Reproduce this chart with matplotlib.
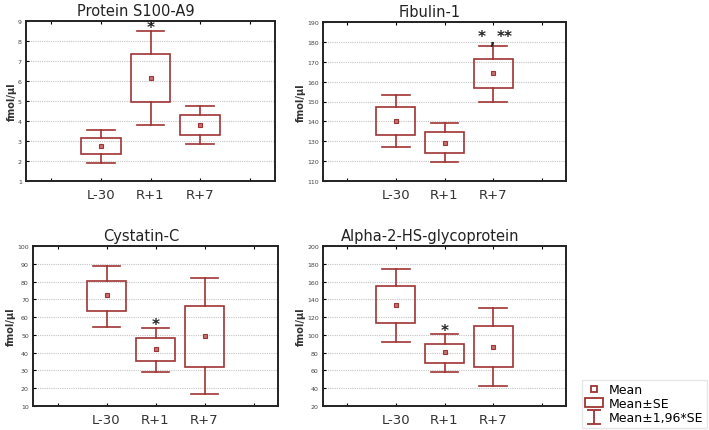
import numpy as np
import matplotlib.pyplot as plt
from matplotlib.patches import Rectangle
from matplotlib.lines import Line2D
from matplotlib.path import Path

# Datos
grupos = ["L-30", "R+1", "R+7"]

s100_media = [2.75, 6.15, 3.8]
s100_caja_lo = [2.35, 4.95, 3.3]
s100_caja_hi = [3.15, 7.35, 4.3]
s100_big_lo = [1.9, 3.8, 2.85]
s100_big_hi = [3.55, 8.5, 4.75]

fib_media = [140.2, 129.1, 164.3]
fib_caja_lo = [133.1, 124.1, 156.8]
fib_caja_hi = [147.2, 134.7, 171.4]
fib_big_lo = [127.1, 119.6, 149.7]
fib_big_hi = [153.3, 139.2, 177.9]

cys_media = [72.2, 42.1, 49.4]
cys_caja_lo = [63.3, 35.3, 32.0]
cys_caja_hi = [80.3, 48.3, 66.3]
cys_big_lo = [54.3, 29.1, 16.8]
cys_big_hi = [88.8, 53.9, 81.8]

alf_media = [133.6, 80.8, 86.0]
alf_caja_lo = [113.4, 68.4, 64.0]
alf_caja_hi = [155.0, 89.8, 110.0]
alf_big_lo = [92.0, 58.3, 42.0]
alf_big_hi = [174.1, 101.0, 130.0]

ROJO = "#a03434"
W, H = 709, 431

fig = plt.figure(figsize=(W / 100, H / 100), dpi=100)


def ejes(x0, x1, y0, y1):
    # coordenadas en pixeles -> fraccion de figura
    return fig.add_axes([x0 / W, 1 - y1 / H, (x1 - x0) / W, (y1 - y0) / H])


def panel(ax, titulo, media, clo, chi, blo, bhi, ylim, paso):
    x = np.arange(1, len(grupos) + 1)
    for i in range(len(grupos)):
        ax.plot([x[i], x[i]], [blo[i], clo[i]], color=ROJO, lw=1.2)
        ax.plot([x[i], x[i]], [chi[i], bhi[i]], color=ROJO, lw=1.2)
        ax.plot([x[i] - 0.28, x[i] + 0.28], [blo[i], blo[i]], color=ROJO, lw=1.2)
        ax.plot([x[i] - 0.28, x[i] + 0.28], [bhi[i], bhi[i]], color=ROJO, lw=1.2)
        ax.add_patch(Rectangle((x[i] - 0.4, clo[i]), 0.8, chi[i] - clo[i],
                               fill=False, ec=ROJO, lw=1.2, zorder=3))
    ax.plot(x, media, "s", ms=2.3, mfc="#c87070", mec=ROJO, mew=0.8, ls="none", zorder=4)
    ax.set_xlim(-0.5, 4.5)
    ax.set_ylim(*ylim)
    ax.set_yticks(np.arange(ylim[0], ylim[1] + paso / 2, paso))
    ax.set_xticks([0, 1, 2, 3, 4])
    ax.set_xticklabels(["", grupos[0], grupos[1], grupos[2], ""], fontsize=9.5, color="#333333")
    ax.tick_params(axis="x", direction="in", length=2, top=True, pad=5)
    ax.tick_params(axis="y", direction="in", length=2, labelsize=4.5, pad=3, labelcolor="#444444")
    ax.grid(axis="y", ls=(0, (1, 1)), color="#c4c4c4", lw=0.8)
    for s in ax.spines.values():
        s.set_linewidth(1.4)
        s.set_color("#222222")
    ax.set_title(titulo, fontsize=10.5, pad=4, color="#222222", x=0.44)
    ax.set_ylabel("fmol/µl", fontsize=7, fontweight="bold", color="#333333", labelpad=1)


def estrella(ax, x, y, txt, dx=0, dy=-1, fs=11):
    ax.annotate(txt, xy=(x, y), xytext=(dx, dy), textcoords="offset points",
                ha="center", va="baseline", fontsize=fs, fontweight="bold", color="#222222")


ax1 = ejes(26, 275, 22, 182)
panel(ax1, "Protein S100-A9", s100_media, s100_caja_lo, s100_caja_hi, s100_big_lo, s100_big_hi, (1, 9), 1)
estrella(ax1, 2, s100_big_hi[1], "*")

ax2 = ejes(323, 566, 23, 182)
panel(ax2, "Fibulin-1", fib_media, fib_caja_lo, fib_caja_hi, fib_big_lo, fib_big_hi, (110, 190), 10)
estrella(ax2, 3, fib_big_hi[2], "*", dx=-8, dy=3.5)
estrella(ax2, 3, fib_big_hi[2], "**", dx=8, dy=3.5)
estrella(ax2, 3, fib_big_hi[2], ",", dx=-1, dy=1.5, fs=10)

ax3 = ejes(33, 278, 247, 407)
panel(ax3, "Cystatin-C", cys_media, cys_caja_lo, cys_caja_hi, cys_big_lo, cys_big_hi, (10, 100), 10)
estrella(ax3, 2, cys_big_hi[1], "*")

ax4 = ejes(323, 566, 247, 407)
panel(ax4, "Alpha-2-HS-glycoprotein", alf_media, alf_caja_lo, alf_caja_hi, alf_big_lo, alf_big_hi, (20, 200), 20)
estrella(ax4, 2, alf_big_hi[1], "*")

# Leyenda
bigote = Path([(-1, -1), (1, -1), (0, -1), (0, 1), (-1, 1), (1, 1)],
              [Path.MOVETO, Path.LINETO, Path.MOVETO, Path.LINETO, Path.MOVETO, Path.LINETO])
h1 = Line2D([], [], marker="s", ms=4, mfc="white", mec=ROJO, mew=1.3, ls="none")
h2 = Rectangle((0, 0), 1, 1, fill=False, ec=ROJO, lw=1.3)
h3 = Line2D([], [], marker=bigote, ms=10, mfc="none", mec=ROJO, mew=1.3, ls="none")
fig.legend([h1, h2, h3], ["Mean", "Mean±SE", "Mean±1,96*SE"], loc="lower right",
           bbox_to_anchor=(1.0, 0.0), fontsize=9, frameon=True, edgecolor="#e0e0e0",
           fancybox=False, handlelength=1.4, handletextpad=0.5, labelspacing=0.1,
           borderpad=0.25, borderaxespad=0.2)

plt.savefig("out.png", dpi=100)
